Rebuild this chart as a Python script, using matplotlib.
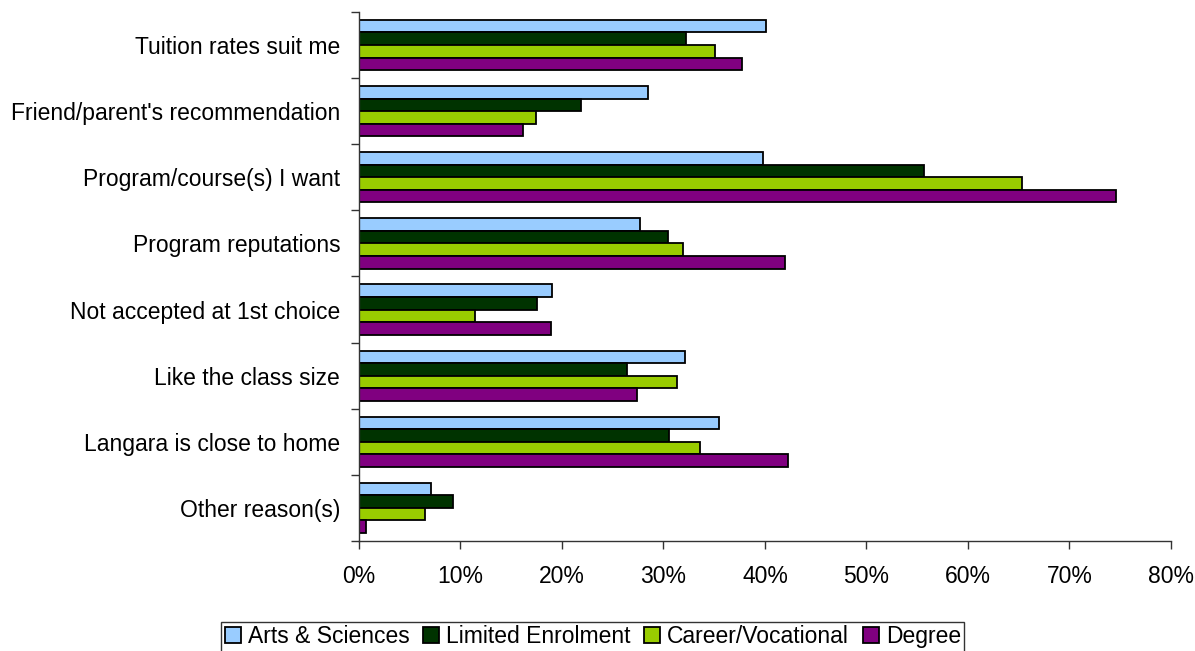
import numpy as np
import matplotlib.pyplot as plt
from matplotlib.ticker import FixedLocator, PercentFormatter

plt.rcParams['font.family'] = ['Liberation Sans', 'DejaVu Sans']

# Reasons, listed top to bottom
reasons = ['Tuition rates suit me', "Friend/parent's recommendation",
           'Program/course(s) I want', 'Program reputations',
           'Not accepted at 1st choice', 'Like the class size',
           'Langara is close to home', 'Other reason(s)']

series = ['Arts & Sciences', 'Limited Enrolment', 'Career/Vocational', 'Degree']
colors = ['#99CCFF', '#003300', '#99CC00', '#800080']

arts = [40.1, 28.5, 39.8, 27.7, 19.0, 32.1, 35.5, 7.1]
limited = [32.2, 21.9, 55.7, 30.4, 17.5, 26.4, 30.5, 9.3]
career = [35.1, 17.4, 65.3, 31.9, 11.4, 31.3, 33.6, 6.5]
degree = [37.7, 16.2, 74.6, 42.0, 18.9, 27.4, 42.3, 0.7]
values = [arts, limited, career, degree]

fig = plt.figure(figsize=(11.95, 6.51), dpi=100)
ax = fig.add_axes([0.3004, 0.169, 0.6795, 0.8126])

n = len(reasons)
y = np.arange(n)
h = 0.19
for i, (name, vals, c) in enumerate(zip(series, values, colors)):
    ax.barh(y - 1.5 * h + i * h, vals, height=h, color=c, edgecolor='black',
            linewidth=1.3, label=name)

ax.set_xlim(0, 80)
ax.set_ylim(n - 0.5, -0.5)
ax.set_xticks(np.arange(0, 81, 10))
ax.xaxis.set_major_formatter(PercentFormatter(decimals=0))

# labels sit at the group centres, tick marks at the group boundaries
ax.set_yticks(y)
ax.set_yticklabels(reasons)
ax.yaxis.set_minor_locator(FixedLocator(np.arange(-0.5, n, 1)))
ax.tick_params(axis='y', which='major', length=0, pad=13.5, labelsize=16.5)
ax.tick_params(axis='y', which='minor', length=6, width=1, color='#333333')
ax.tick_params(axis='x', length=6, width=1, color='#333333', labelsize=16.5, pad=11)

for s in ['top', 'right']:
    ax.spines[s].set_visible(False)
for s in ['left', 'bottom']:
    ax.spines[s].set_color('#333333')
    ax.spines[s].set_linewidth(1)

leg = fig.legend(loc='center', bbox_to_anchor=(0.496, 0.022), ncol=4,
                 fontsize=16.5, frameon=True, fancybox=False, edgecolor='black',
                 handlelength=0.7, handleheight=0.7, handletextpad=0.3,
                 columnspacing=0.6, borderpad=0.15, borderaxespad=0)
leg.get_frame().set_linewidth(1)

fig.savefig('out.png', dpi=100)
